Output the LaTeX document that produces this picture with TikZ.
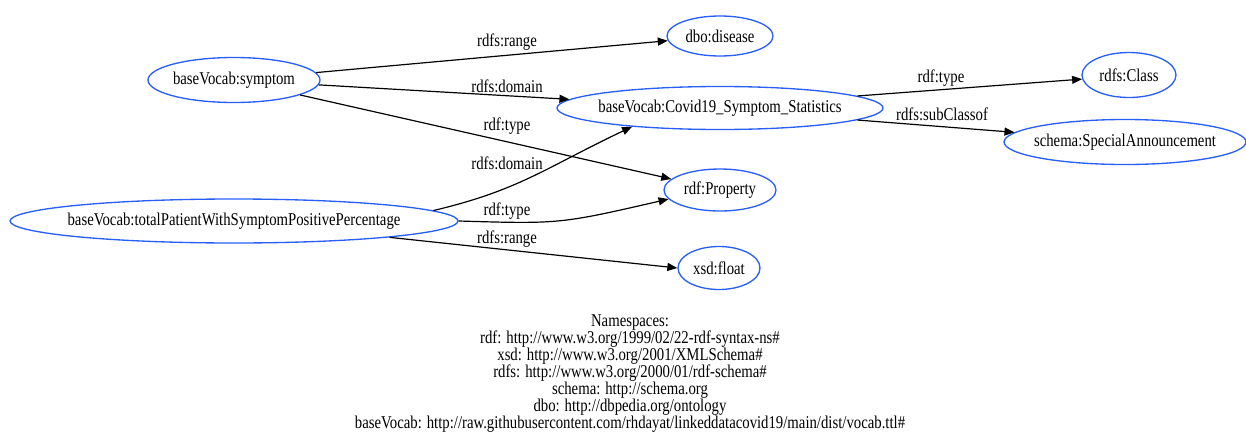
\documentclass[tikz,border=0pt]{standalone}
\usepackage{fontspec}
\setmainfont{Liberation Serif}[FakeStretch=0.82]
\usetikzlibrary{shapes.geometric,arrows.meta}
\definecolor{nodeblue}{RGB}{40,95,250}
\tikzset{
  ent/.style={ellipse, draw=nodeblue, line width=1pt, inner sep=0pt, font=\fontsize{13.5pt}{12.75pt}\selectfont},
  elabel/.style={inner sep=0pt, font=\fontsize{13.5pt}{12.75pt}\selectfont},
  edge/.style={draw=black, line width=0.9pt, -{Triangle[length=7.5pt,width=6pt]}},
}
\begin{document}
\begin{tikzpicture}[x=0.75pt,y=-0.75pt]
\useasboundingbox (0,0) rectangle (1246,443);
\node[ent, minimum width=129pt, minimum height=33.75pt] (symptom) at (234,80) {\makebox[0pt]{baseVocab:symptom}};
\node[ent, minimum width=336pt, minimum height=33pt] (total) at (234,221) {\makebox[0pt]{baseVocab:totalPatientWithSymptomPositivePercentage}};
\node[ent, minimum width=79.5pt, minimum height=30pt] (disease) at (720,36) {\makebox[0pt]{dbo:disease}};
\node[ent, minimum width=244.5pt, minimum height=32.25pt] (covid) at (720,108) {\makebox[0pt]{baseVocab:Covid19\_Symptom\_Statistics}};
\node[ent, minimum width=84pt, minimum height=31.5pt] (property) at (720,190) {\makebox[0pt]{rdf:Property}};
\node[ent, minimum width=61.5pt, minimum height=32.25pt] (float) at (719,268) {\makebox[0pt]{xsd:float}};
\node[ent, minimum width=70.5pt, minimum height=33.75pt] (class) at (1129,75) {\makebox[0pt]{rdfs:Class}};
\node[ent, minimum width=181.5pt, minimum height=33.75pt] (special) at (1125,142) {\makebox[0pt]{schema:SpecialAnnouncement}};

\draw[edge] (symptom) -- (disease);
\draw[edge] (symptom) -- (covid);
\draw[edge] (symptom) -- (property);
\draw[edge] (total.3) .. controls (520,190) and (545,168) .. (covid.192);
\draw[edge] (total.east) .. controls (560,224) .. (property.190);
\draw[edge] (total.-6.4) -- (float.west);
\draw[edge] (covid.5) -- (class.185);
\draw[edge] (covid.-5) -- (special.175);

\node[elabel] (l1) at (507,42) {rdfs:range};
\node[elabel] (l2) at (507,86) {rdfs:domain};
\node[elabel] (l3) at (507,126) {rdf:type};
\node[elabel] (l4) at (507,163) {rdfs:domain};
\node[elabel] (l5) at (507,211) {rdf:type};
\node[elabel] (l6) at (507,239) {rdfs:range};
\node[elabel] (l7) at (941,78) {rdf:type};
\node[elabel] (l8) at (942,114) {rdfs:subClassof};

\node[elabel, align=center, anchor=north] (ns) at (630,314) {Namespaces:\\
rdf: http://www.w3.org/1999/02/22-rdf-syntax-ns\#\\
xsd: http://www.w3.org/2001/XMLSchema\#\\
rdfs: http://www.w3.org/2000/01/rdf-schema\#\\
schema: http://schema.org\\
dbo: http://dbpedia.org/ontology\\
baseVocab: http://raw.githubusercontent.com/rhdayat/linkeddatacovid19/main/dist/vocab.ttl\#};
\end{tikzpicture}
\end{document}
